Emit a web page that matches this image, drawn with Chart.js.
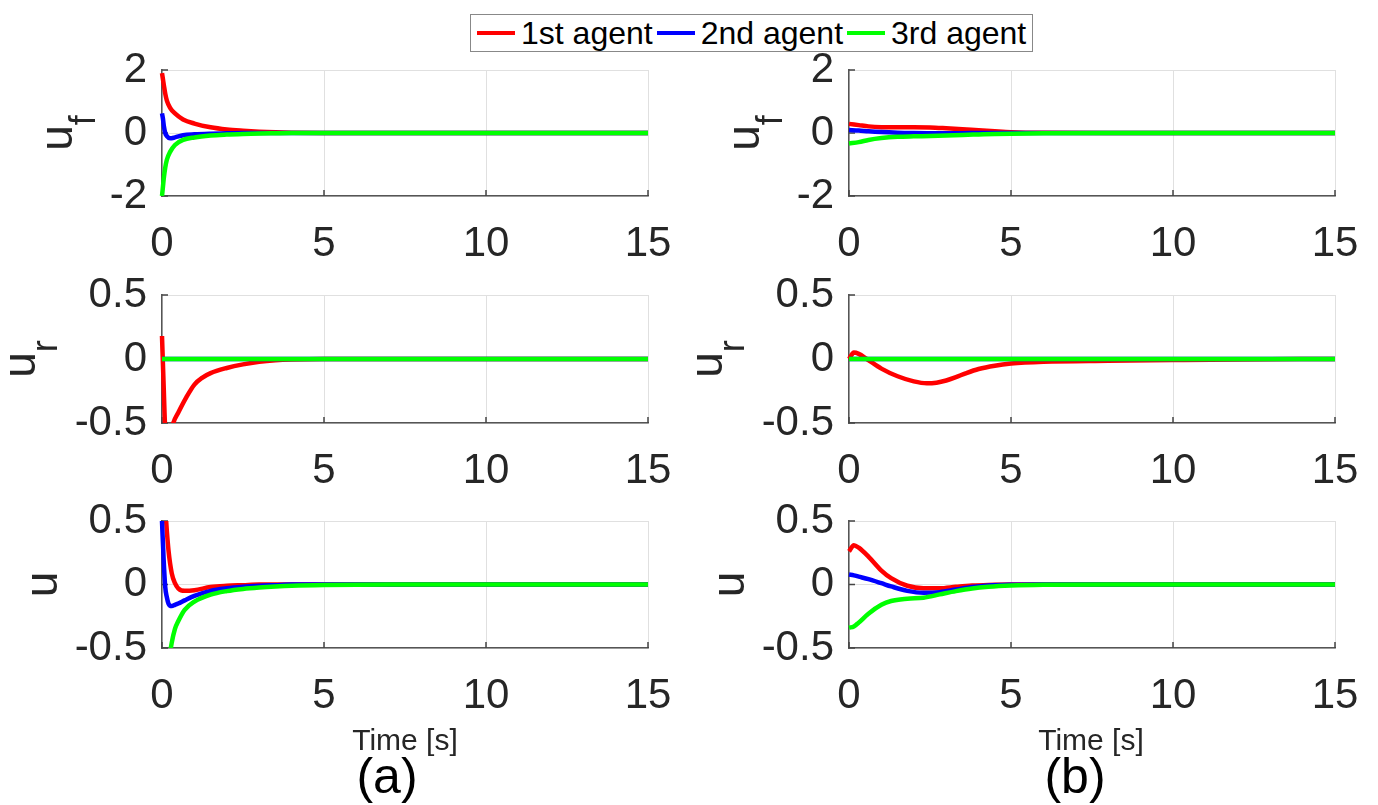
<!DOCTYPE html>
<html>
<head>
<meta charset="utf-8">
<script src="https://cdn.jsdelivr.net/npm/chart.js@4.4.0/dist/chart.umd.min.js"></script>
<style>
  body { margin: 0; background: #fff; width: 1378px; height: 805px; overflow: hidden; position: relative;
         font-family: "Liberation Sans", Arial, sans-serif; color: #262626; }
  canvas { position: absolute; }
  .txt { position: absolute; text-align: center; white-space: nowrap; }
  #legend { position: absolute; left: 470px; top: 14px; width: 561px; height: 36px; border: 1px solid #888;
            display: flex; align-items: center; font-size: 32px; color: #000; }
  .sw { display: inline-block; width: 38px; height: 4px; margin: 0 6px 0 4px; }
</style>
</head>
<body>
<div id="legend">
  <span class="sw" style="background:#ff0000;margin-left:6px"></span><span>1st agent</span>
  <span class="sw" style="background:#0000ff"></span><span>2nd agent</span>
  <span class="sw" style="background:#00ff00"></span><span>3rd agent</span>
</div>

<canvas id="a1" width="708" height="246" style="left:0;top:30px"></canvas>
<canvas id="b1" width="708" height="246" style="left:687px;top:30px"></canvas>
<canvas id="a2" width="708" height="248" style="left:0;top:255px"></canvas>
<canvas id="b2" width="708" height="248" style="left:687px;top:255px"></canvas>
<canvas id="a3" width="708" height="247" style="left:0;top:481px"></canvas>
<canvas id="b3" width="708" height="247" style="left:687px;top:481px"></canvas>

<div class="txt" style="left:305px;top:725px;width:200px;font-size:30px;line-height:30px">Time [s]</div>
<div class="txt" style="left:991px;top:725px;width:200px;font-size:30px;line-height:30px">Time [s]</div>
<div class="txt" style="left:287px;top:751px;width:200px;font-size:50px;line-height:50px;color:#000">(a)</div>
<div class="txt" style="left:975px;top:751px;width:200px;font-size:50px;line-height:50px;color:#000">(b)</div>

<script>
const FONT = '"Liberation Sans", Arial, sans-serif';

// (a) u_f
const t_a1 = [0, 0.03, 0.06, 0.1, 0.15, 0.25, 0.4, 0.65, 1, 1.5, 2, 2.5, 3, 3.5, 4, 5, 7, 10, 15];
const a1_first  = [1.9, 1.7, 1.5, 1.25, 1.03, 0.8, 0.62, 0.43, 0.3, 0.18, 0.11, 0.07, 0.04, 0.02, 0.008, 0, 0, 0, 0];
const a1_second = [0.62, 0.45, 0.2, 0, -0.1, -0.17, -0.14, -0.07, -0.04, -0.02, -0.01, 0, 0, 0, 0, 0, 0, 0, 0];
const a1_third  = [-2.0, -1.7, -1.4, -1.1, -0.85, -0.6, -0.38, -0.22, -0.14, -0.08, -0.05, -0.03, -0.015, -0.007, 0, 0, 0, 0, 0];

// (a) u_r
const t_a2 = [0, 0.05, 0.1, 0.2, 0.35, 0.5, 0.75, 1, 1.25, 1.5, 2, 2.5, 3, 3.5, 4, 5, 7, 10, 15];
const a2_first  = [0.18, -0.2, -0.55, -0.68, -0.5, -0.42, -0.3, -0.2, -0.145, -0.11, -0.07, -0.042, -0.022, -0.01, -0.004, 0, 0, 0, 0];
const a2_second = [0, 0, 0, 0, 0, 0, 0, 0, 0, 0, 0, 0, 0, 0, 0, 0, 0, 0, 0];
const a2_third  = [0, 0, 0, 0, 0, 0, 0, 0, 0, 0, 0, 0, 0, 0, 0, 0, 0, 0, 0];

// (a) u
const t_a3 = [0, 0.05, 0.1, 0.15, 0.2, 0.3, 0.4, 0.5, 0.7, 1, 1.5, 2, 2.5, 3, 3.5, 4, 5, 7, 10, 15];
const a3_first  = [1.0, 0.8, 0.6, 0.42, 0.27, 0.09, 0.01, -0.03, -0.05, -0.045, -0.02, -0.01, -0.005, 0, 0, 0, 0, 0, 0, 0];
const a3_second = [0.5, 0.2, -0.02, -0.1, -0.15, -0.17, -0.16, -0.15, -0.125, -0.09, -0.05, -0.03, -0.018, -0.01, -0.005, 0, 0, 0, 0, 0];
const a3_third  = [-1.2, -1.0, -0.85, -0.72, -0.62, -0.46, -0.35, -0.29, -0.2, -0.135, -0.08, -0.052, -0.035, -0.024, -0.016, -0.01, -0.004, 0, 0, 0];

// (b) u_f
const t_b1 = [0, 0.3, 0.6, 1, 1.5, 2, 2.5, 3, 3.5, 4, 4.5, 5, 6, 8, 10, 15];
const b1_first  = [0.29, 0.25, 0.21, 0.185, 0.18, 0.18, 0.175, 0.15, 0.12, 0.085, 0.053, 0.025, 0.005, 0, 0, 0];
const b1_second = [0.095, 0.08, 0.055, 0.03, 0.01, 0, -0.005, -0.005, -0.005, 0, 0, 0, 0, 0, 0, 0];
const b1_third  = [-0.33, -0.29, -0.22, -0.16, -0.12, -0.105, -0.095, -0.08, -0.06, -0.045, -0.03, -0.02, -0.008, 0, 0, 0];

// (b) u_r
const t_b2 = [0, 0.15, 0.3, 0.55, 1, 1.5, 2, 2.4, 2.7, 3, 3.3, 3.6, 4, 4.5, 5, 6, 8, 10, 12, 15];
const b2_first  = [0, 0.05, 0.04, 0, -0.075, -0.135, -0.175, -0.19, -0.185, -0.168, -0.142, -0.112, -0.078, -0.052, -0.036, -0.022, -0.014, -0.008, -0.003, 0];
const b2_second = [0, 0, 0, 0, 0, 0, 0, 0, 0, 0, 0, 0, 0, 0, 0, 0, 0, 0, 0, 0];
const b2_third  = [0, 0, 0, 0, 0, 0, 0, 0, 0, 0, 0, 0, 0, 0, 0, 0, 0, 0, 0, 0];

// (b) u
const t_b3 = [0, 0.15, 0.3, 0.6, 1, 1.3, 1.8, 2.3, 2.8, 3.3, 3.8, 4.3, 5, 6, 8, 10, 15];
const b3_first  = [0.26, 0.31, 0.29, 0.22, 0.11, 0.05, -0.01, -0.03, -0.03, -0.018, -0.008, -0.003, 0, 0, 0, 0, 0];
const b3_second = [0.078, 0.072, 0.062, 0.042, 0.01, -0.015, -0.05, -0.065, -0.06, -0.04, -0.02, -0.008, -0.002, 0, 0, 0, 0];
const b3_third  = [-0.34, -0.33, -0.3, -0.23, -0.16, -0.13, -0.112, -0.104, -0.078, -0.052, -0.031, -0.018, -0.008, -0.002, 0, 0, 0];

function series(t, v) {
  return t.map((x, i) => ({ x: x, y: v[i] }));
}

// rotated y label with optional subscript (u_f, u_r)
const yLabel = {
  id: 'ylab',
  afterDraw(chart, args, o) {
    const ctx = chart.ctx;
    const a = chart.chartArea;
    const cy = (a.top + a.bottom) / 2;
    ctx.save();
    ctx.fillStyle = '#262626';
    ctx.font = '46px ' + FONT;
    const w1 = ctx.measureText(o.main).width;
    ctx.font = '36px ' + FONT;
    const w2 = o.sub ? ctx.measureText(o.sub).width : 0;
    ctx.translate(o.x, cy + (w1 + w2) / 2);
    ctx.rotate(-Math.PI / 2);
    ctx.textAlign = 'left';
    ctx.textBaseline = 'alphabetic';
    ctx.font = '46px ' + FONT;
    ctx.fillText(o.main, 0, 0);
    if (o.sub) {
      ctx.font = '36px ' + FONT;
      ctx.fillText(o.sub, w1, o.drop);
    }
    ctx.restore();
  }
};

// small inward tick marks like matlab
const inTicks = {
  id: 'inTicks',
  beforeDatasetsDraw(chart) {
    const ctx = chart.ctx;
    const a = chart.chartArea;
    const x = chart.scales.x, y = chart.scales.y;
    ctx.save();
    ctx.strokeStyle = '#444';
    ctx.lineWidth = 1.5;
    ctx.beginPath();
    x.ticks.forEach(tk => {
      const px = x.getPixelForValue(tk.value);
      ctx.moveTo(px, a.bottom);
      ctx.lineTo(px, a.bottom - 6);
    });
    y.ticks.forEach(tk => {
      const py = y.getPixelForValue(tk.value);
      ctx.moveTo(a.left, py);
      ctx.lineTo(a.left + 6, py);
    });
    ctx.stroke();
    ctx.restore();
  }
};

function makePanel(id, t, s1, s2, s3, yMin, yMax, yStep, lab) {
  const tickFont = { size: 42, family: FONT, lineHeight: 1 };
  const clip = { left: 3, right: 3, top: 0, bottom: 0 };
  return new Chart(document.getElementById(id), {
    type: 'line',
    data: {
      datasets: [
        { label: '1st agent', data: series(t, s1), borderColor: '#ff0000', order: 3, clip: clip },
        { label: '2nd agent', data: series(t, s2), borderColor: '#0000ff', order: 2, clip: clip },
        { label: '3rd agent', data: series(t, s3), borderColor: '#00ff00', order: 1, clip: clip }
      ]
    },
    options: {
      responsive: false,
      animation: false,
      layout: { padding: { top: 40, right: 60, left: 0, bottom: 0 } },
      elements: {
        point: { radius: 0 },
        line: { borderWidth: 4.5, cubicInterpolationMode: 'monotone', fill: false }
      },
      plugins: { legend: { display: false }, tooltip: { enabled: false }, ylab: lab },
      scales: {
        x: {
          type: 'linear', min: 0, max: 15,
          ticks: { stepSize: 5, padding: 27, font: tickFont, color: '#262626', maxRotation: 0 },
          grid: { color: '#e0e0e0', drawTicks: false },
          border: { color: '#555', width: 1.5 },
          afterFit: s => { s.height = 80; }
        },
        y: {
          min: yMin, max: yMax,
          ticks: { stepSize: yStep, padding: 15, font: tickFont, color: '#262626' },
          grid: { color: '#e0e0e0', drawTicks: false },
          border: { color: '#555', width: 1.5 },
          afterFit: s => { s.width = 162; }
        }
      }
    },
    plugins: [inTicks, yLabel]
  });
}

makePanel('a1', t_a1, a1_first, a1_second, a1_third, -2, 2, 2, { main: 'u', sub: 'f', x: 72, drop: 23 });
makePanel('b1', t_b1, b1_first, b1_second, b1_third, -2, 2, 2, { main: 'u', sub: 'f', x: 72, drop: 23 });
makePanel('a2', t_a2, a2_first, a2_second, a2_third, -0.5, 0.5, 0.5, { main: 'u', sub: 'r', x: 35, drop: 22 });
makePanel('b2', t_b2, b2_first, b2_second, b2_third, -0.5, 0.5, 0.5, { main: 'u', sub: 'r', x: 35, drop: 22 });
makePanel('a3', t_a3, a3_first, a3_second, a3_third, -0.5, 0.5, 0.5, { main: 'u', x: 57 });
makePanel('b3', t_b3, b3_first, b3_second, b3_third, -0.5, 0.5, 0.5, { main: 'u', x: 57 });
</script>
</body>
</html>
